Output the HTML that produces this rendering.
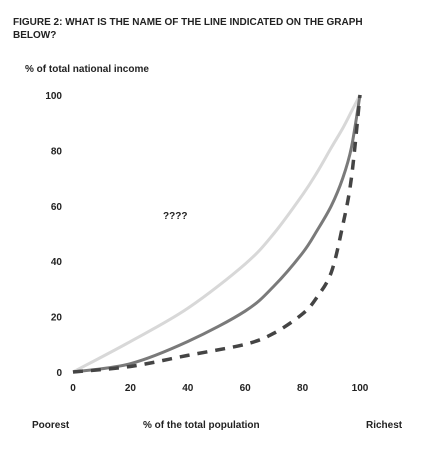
<!DOCTYPE html>
<html><head><meta charset="utf-8"><style>
body{margin:0;background:#fff;width:424px;height:457px;overflow:hidden;font-family:"Liberation Sans",sans-serif}
text{font-family:"Liberation Sans",sans-serif;font-weight:bold;fill:#222}
</style></head><body>
<svg width="424" height="457">
<text x="13" y="25" font-size="10">FIGURE 2: WHAT IS THE NAME OF THE LINE INDICATED ON THE GRAPH</text>
<text x="13" y="38" font-size="10">BELOW?</text>
<text x="25" y="72" font-size="10">% of total national income</text>
<text x="163" y="219" font-size="10">????</text>
<text x="32" y="428" font-size="10">Poorest</text>
<text x="143" y="428" font-size="10">% of the total population</text>
<text x="366" y="428" font-size="10">Richest</text>
<g id="yt"></g><g id="xt"></g><g id="lines"></g>
</svg>
<script>
const yTicks=[0,20,40,60,80,100];
const xTicks=[0,20,40,60,80,100];
const pop=[0,20,40,60,70,80,85,90,94,97,100];
const equality=[0,11,23,39,50,64,72,81,88,94,100];
const lorenzA=[0,3,11,22,31,43,51,60,70,81,100];
const lorenzB=[0,2,6,10,14,21,27,36,53,70,100];
const X=v=>73+v*2.87, Y=v=>372-v*2.77;
const NS="http://www.w3.org/2000/svg";
const yt=document.getElementById('yt'), xt=document.getElementById('xt'), lg=document.getElementById('lines');
yTicks.forEach(v=>{const t=document.createElementNS(NS,'text');
t.setAttribute('x',62);t.setAttribute('y',Y(v)+4);t.setAttribute('text-anchor','end');t.setAttribute('font-size','10');t.textContent=v;


yt.appendChild(t);});
xTicks.forEach(v=>{const t=document.createElementNS(NS,'text');
t.setAttribute('x',X(v));t.setAttribute('y',391);t.setAttribute('text-anchor','middle');t.setAttribute('font-size','10');t.textContent=v;


xt.appendChild(t);});
function path(vals){const p=pop.map((x,i)=>[X(x),Y(vals[i])]);
let d='M'+p[0][0]+','+p[0][1];
for(let i=0;i<p.length-1;i++){const p0=p[Math.max(i-1,0)],p1=p[i],p2=p[i+1],p3=p[Math.min(i+2,p.length-1)];
d+=' C'+(p1[0]+(p2[0]-p0[0])/6)+','+(p1[1]+(p2[1]-p0[1])/6)+' '+(p2[0]-(p3[0]-p1[0])/6)+','+(p2[1]-(p3[1]-p1[1])/6)+' '+p2[0]+','+p2[1];}
return d;}
function add(vals,stroke,w,dash,name){const e=document.createElementNS(NS,'path');
e.setAttribute('d',path(vals));e.setAttribute('fill','none');e.setAttribute('stroke',stroke);e.setAttribute('stroke-width',w);
if(dash)e.setAttribute('stroke-dasharray',dash);


lg.appendChild(e);}
add(equality,'#d8d8d8',3,null,'equality-line');
add(lorenzA,'#7a7a7a',3,null,'lorenz-curve-solid');
add(lorenzB,'#444',3.5,'10,8','lorenz-curve-dashed');
</script>
</body></html>
